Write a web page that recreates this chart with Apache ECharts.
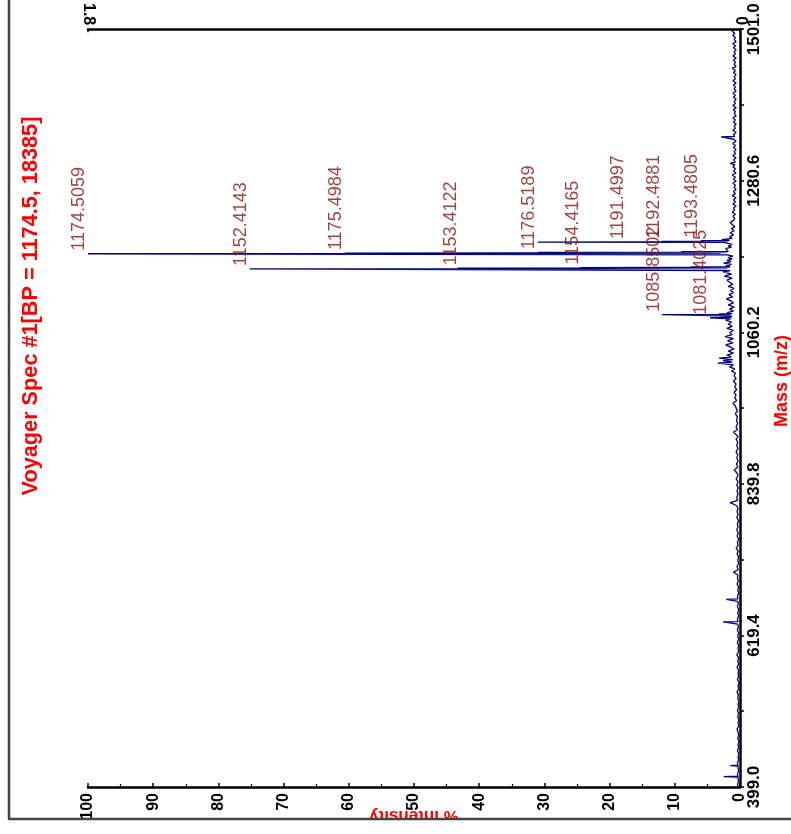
<!DOCTYPE html>
<html><head><meta charset="utf-8">
<script src="https://cdn.jsdelivr.net/npm/echarts@6/dist/echarts.min.js"></script>
<style>html,body{margin:0;padding:0;background:#fff}#c{width:791px;height:834px}</style>
</head><body><div id="c"></div>
<script>
// ---- data ----
const titleText = 'Voyager Spec #1[BP = 1174.5, 18385]';
const massAxisName = 'Mass (m/z)';
const intensityAxisName = '% Intensity';
const massTicks = [399.0, 619.4, 839.8, 1060.2, 1280.6, 1501.0];
const intensityTicks = [0, 10, 20, 30, 40, 50, 60, 70, 80, 90, 100];
const countTicks = [0, 1.8];

// profile: [mass, % intensity]
const profileLow = [
 [399,0.2],[403,0.4],[407,0.2],[410,0.3],[413.4,0.3],[414,2.5],[414.6,0.3],[418,0.4],[422,0.2],[426,0.3],[429.4,0.3],[430,1.5],[430.6,0.3],
 [434,0.4],[438,0.2],[443,0.3],[447,0.15],[452,0.4],[456,0.2],[461,0.3],[465,0.15],[470,0.35],[474,0.2],[479,0.3],[483,0.45],
 [488,0.2],[492,0.3],[497,0.15],[501,0.35],[506,0.2],[510,0.4],[515,0.2],[519,0.3],[524,0.15],[528,0.35],[533,0.25],
 [537,0.45],[542,0.2],[546,0.3],[551,0.15],[555,0.4],[560,0.2],[564,0.3],[569,0.2],[573,0.45],[578,0.2],[582,0.35],
 [587,0.2],[591,0.5],[596,0.2],[600,0.3],[605,0.2],[609,0.4],[614,0.2],[618,0.35],[623,0.2],[627,0.4],[632,0.25],
 [636,0.35],[638.4,0.3],[639,2.6],[639.6,0.3],[643,0.4],[648,0.2],[652,0.35],[657,0.2],[661,0.4],[666,0.25],[669,0.35],
 [671.4,0.3],[672,2.1],[672.6,0.3],[676,0.4],[681,0.2],[685,0.35],[690,0.2],[694,0.45],[699,0.25],[703,0.4],[707,0.3],
 [711.5,1.0],[715,0.3],[720,0.45],[724,0.2],[729,0.35],[733,0.2],[738,0.45],[742,0.25],[746,0.6],[750,0.3],[755,0.4],
 [759,0.2],[764,0.45],[768,0.25],[773,0.5],[777,0.3],[782,0.4],[786,0.2],[791,0.5],[795,0.3],[800,0.45],[804,0.3],
 [808,0.5],[812.6,1.5],[816,0.35],[820,0.5],[825,0.3],[829,0.45],[834,0.25],[838,0.5],[843,0.3],[847,0.6],[852,0.3],
 [856,0.5],[860,0.9],[864,0.35],[869,0.55],[873,0.3],[878,0.5],[882,0.35],[887,0.6],[891,0.3],[896,0.5],[900,0.35],
 [905,0.6],[909,0.3],[915,1.0],[919,0.4],[923,0.6],[928,0.35],[932,0.55],[937,0.4],[942,0.7],[946,0.4],[950,0.6]
];
const profileMid = [
 [953,0.7],[957,1.1],[961,0.5],[965,0.8],[969,0.6],[973,0.9],[977,0.5],[981,0.8],[985,0.6],[989,1.0],[993,0.6],
 [997,0.9],[1001,0.7],[1004,1.3],[1007,0.8],[1010,1.6],[1013,1.0],[1015.4,3.4],[1017,1.2],[1019,2.6],[1020.5,1.1],
 [1022.7,3.2],[1024.5,1.3],[1027,2.0],[1030,1.0],[1033,1.8],[1036,0.9],[1039,1.5],[1042,2.2],[1045,1.1],[1048,1.9],
 [1051,1.0],[1054,2.3],[1057,1.2],[1060,1.6],[1063,1.0],[1066,2.0],[1069,1.2],[1072,1.8],[1075,1.3],[1078,2.2],
 [1080,1.4],[1080.8,1.2],[1081.4,4.6],[1082,1.3],[1082.4,3.0],[1083,1.2],[1083.4,2.0],[1084,1.3],[1085.3,1.4],
 [1085.85,12.0],[1086.4,1.5],[1086.85,3.2],[1087.4,1.2],[1089,2.0],[1091,1.0],[1094,1.6],[1097,0.9],[1100,1.8],
 [1103,1.0],[1106,1.4],[1109,2.1],[1112,1.1],[1115,1.7],[1118,1.0],[1121,1.5],[1124,0.9],[1127,1.8],[1130,1.1],
 [1133,1.6],[1136,2.0],[1139,1.2],[1142,2.4],[1145,1.3],[1148,2.6],[1150,1.5],[1151.9,1.8]
];
const profileCluster = [
 [1152.41,75.2],[1152.9,2.0],[1153.41,43.3],[1153.9,1.8],[1154.42,24.5],[1154.9,1.6],[1155.42,7.5],[1155.9,1.5],
 [1157,2.2],[1159,1.3],[1161,2.5],[1163,1.4],[1165,2.0],[1167,1.2],[1169,1.8],[1171,1.1],[1173,1.9],[1174,2.0],
 [1174.51,100],[1175.0,3.0],[1175.5,60.6],[1176.0,2.5],[1176.52,31.0],[1177.0,2.0],[1177.5,9.0],[1178,1.8],
 [1180,1.5],[1182,2.2],[1184,1.3],[1186,1.8],[1188,1.2],[1190,2.0],[1191,2.5],[1191.5,31.0],[1192,2.2],
 [1192.49,12.0],[1193,1.8],[1193.48,6.0],[1194,1.6],[1195,2.8],[1197,1.2],[1199,1.6]
];
const profileHigh = [
 [1202,1.0],[1205,1.5],[1208,0.9],[1211,1.3],[1214,0.8],[1217,1.2],[1220,1.5],[1223,1.0],[1226,0.8],[1229,1.1],
 [1232,0.7],[1235,1.2],[1238,0.8],[1241,1.0],[1244,0.6],[1247,1.1],[1250,0.7],[1253,1.0],[1256,0.6],[1259,1.2],
 [1262,0.7],[1265,1.0],[1268,0.6],[1271,0.9],[1274,0.7],[1277,1.1],[1280,0.6],[1283,1.0],[1286,0.7],[1289,1.2],
 [1292,0.6],[1295,1.0],[1298,0.7],[1301,1.1],[1304,0.8],[1306,1.5],[1308,0.7],[1311,1.0],[1314,0.6],[1317,1.1],
 [1320,0.7],[1323,0.9],[1326,0.6],[1329,1.0],[1332,0.7],[1335,1.1],[1338,0.6],[1341,1.0],[1343.8,0.8],[1344.4,2.9],
 [1345,0.8],[1348,1.0],[1351,0.6],[1354,1.1],[1357,0.7],[1360,0.9],[1363,0.6],[1366,1.0],[1369,0.7],[1372,1.1],
 [1375,0.6],[1378,0.9],[1381,0.7],[1384,1.0],[1387,0.6],[1390,1.1],[1393,0.7],[1396,0.9],[1399,0.6],[1402,1.0],
 [1405,0.7],[1408,1.1],[1411,0.6],[1414,0.9],[1417,0.7],[1420,1.0],[1423,0.6],[1426,1.1],[1429,0.7],[1432,0.9],
 [1435,0.6],[1438,1.0],[1441,0.7],[1444,1.2],[1447,0.6],[1450,0.9],[1453,0.7],[1456,1.0],[1459,0.6],[1462,1.1],
 [1465,0.7],[1468,0.9],[1471,0.6],[1474,1.0],[1477,0.7],[1480,1.1],[1483,0.6],[1486,0.9],[1489,0.7],[1492,1.1],
 [1495,0.8],[1498,1.2],[1501,0.9]
];

const peakLabels = ['1174.5059','1152.4143','1175.4984','1153.4122','1176.5189','1154.4165',
                    '1191.4997','1085.8502','1192.4881','1193.4805','1081.4025'];
const peakLabelIntensity = [100, 75.2, 60.6, 42.9, 31.0, 24.2, 17.3, 11.8, 11.8, 6.0, 4.6];

// ---- chart ----
const F = '"Liberation Sans", Arial, sans-serif';
const massOffset = massTicks[0];
const massStep = Math.round((massTicks[1] - massTicks[0]) * 10) / 10;
const massSpan = Math.round((massTicks[massTicks.length - 1] - massTicks[0]) * 10) / 10;

const profile = [].concat(profileLow, profileMid, profileCluster, profileHigh);
const lineData = profile.map(p => [p[1], p[0] - massOffset]);
const labelData = peakLabels.map((t, i) => [peakLabelIntensity[i], parseFloat(t) - massOffset, t]);

const chart = echarts.init(document.getElementById('c'), null, {renderer: 'canvas'});
chart.setOption({
  animation: false,
  backgroundColor: '#fff',
  grid: {left: 88, right: 51, top: 29, bottom: 47, containLabel: false},
  xAxis: [
    {
      type: 'value', position: 'bottom', inverse: true,
      min: intensityTicks[0], max: intensityTicks[intensityTicks.length - 1],
      interval: intensityTicks[1] - intensityTicks[0],
      axisLine: {show: true, onZero: false, lineStyle: {color: '#000', width: 2.5}},
      axisTick: {show: true, inside: true, length: 4, lineStyle: {color: '#000', width: 1.5}},
      minorTick: {show: true, splitNumber: 2, length: 3, lineStyle: {color: '#000', width: 1.2}},
      splitLine: {show: false},
      axisLabel: {rotate: 90, margin: 6, color: '#000', fontWeight: 'bold', fontSize: 16, fontFamily: F}
    },
    {
      type: 'value', position: 'top', inverse: true,
      min: countTicks[0], max: countTicks[1], interval: countTicks[1] - countTicks[0],
      axisLine: {show: true, onZero: false, lineStyle: {color: '#000', width: 2.5}},
      axisTick: {show: true, inside: true, length: 3, lineStyle: {color: '#000', width: 1.5}},
      splitLine: {show: false},
      axisLabel: {rotate: 90, margin: 4, color: '#000', fontWeight: 'bold', fontSize: 16, fontFamily: F,
        formatter: v => (v === 0 ? '0' : v.toFixed(1))}
    }
  ],
  yAxis: {
    type: 'value', position: 'right', min: 0, max: massSpan, interval: massStep,
    axisLine: {show: true, onZero: false, lineStyle: {color: '#000', width: 2.5}},
    axisTick: {show: true, inside: false, length: 4, lineStyle: {color: '#000', width: 1.5}},
    minorTick: {show: true, splitNumber: 2, length: 4, lineStyle: {color: '#000', width: 1.5}},
    splitLine: {show: false},
    axisLabel: {rotate: 90, margin: 6, color: '#000', fontWeight: 'bold', fontSize: 17, fontFamily: F,
      formatter: v => (v + massOffset).toFixed(1)}
  },
  series: [
    {
      type: 'line', xAxisIndex: 0, yAxisIndex: 0, data: lineData,
      symbol: 'none', silent: true, z: 2,
      lineStyle: {color: '#000080', width: 1.3}
    },
    {
      type: 'scatter', xAxisIndex: 0, yAxisIndex: 0, data: labelData,
      symbol: 'circle', symbolSize: 1, silent: true, z: 3,
      itemStyle: {color: 'rgba(0,0,0,0)'},
      label: {
        show: true, position: 'inside', rotate: 90, align: 'left', verticalAlign: 'bottom',
        offset: [3, 0],
        formatter: p => p.data[2], color: '#8b1010', fontSize: 18, fontFamily: F
      }
    }
  ],
  graphic: {elements: [
    {type: 'text', x: 31, y: 306, rotation: Math.PI / 2, z: 10,
     style: {text: titleText, fill: '#ff0000', font: 'bold 21.7px ' + F, align: 'center', verticalAlign: 'middle'}},
    {type: 'text', x: 782, y: 381, rotation: Math.PI / 2, z: 10,
     style: {text: massAxisName, fill: '#ff0000', font: 'bold 18px ' + F, align: 'center', verticalAlign: 'middle'}},
    {type: 'text', x: 414, y: 816, rotation: Math.PI, z: 10,
     style: {text: intensityAxisName, fill: '#ff0000', font: 'bold 17px ' + F, align: 'center', verticalAlign: 'middle'}},
    {type: 'rect', z: 20, shape: {x: 0, y: 820, width: 791, height: 14}, style: {fill: '#fff'}},
    {type: 'rect', z: 30, shape: {x: 9, y: -10, width: 800, height: 829}, style: {fill: null, stroke: '#444', lineWidth: 2.5}}
  ]}
});
</script>
</body></html>
